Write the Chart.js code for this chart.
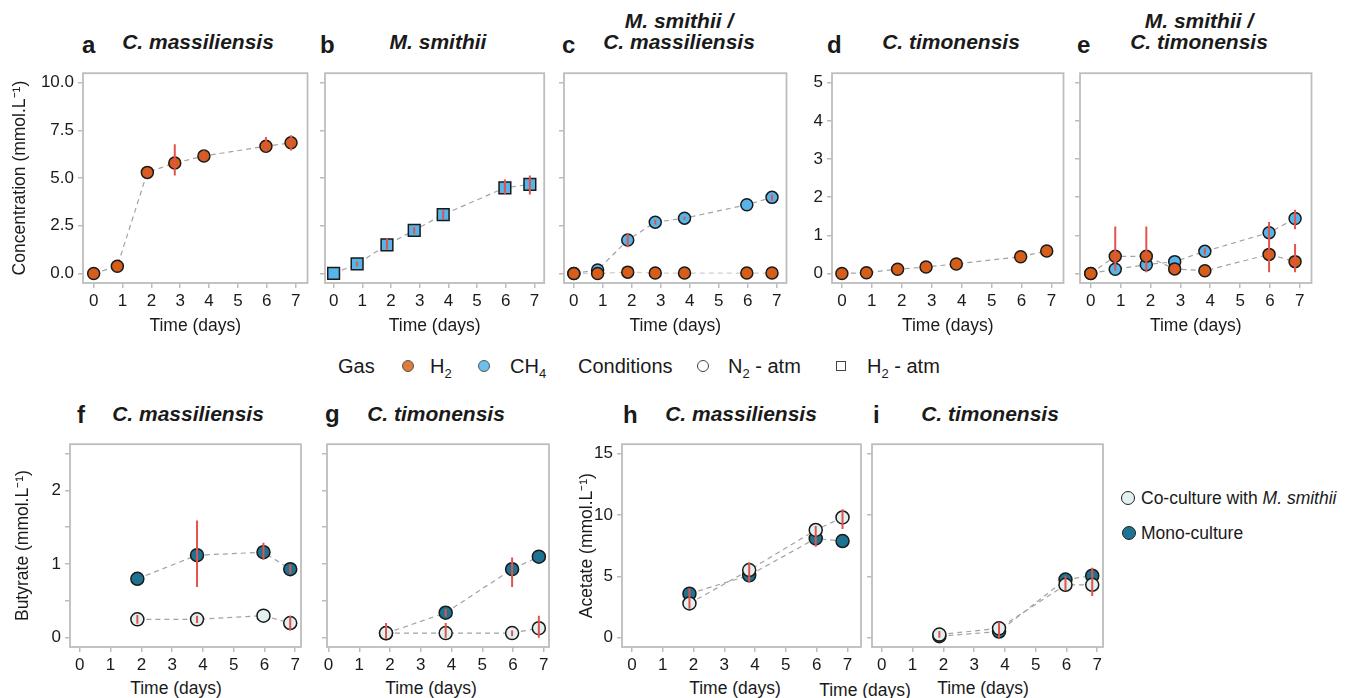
<!DOCTYPE html>
<html><head><meta charset="utf-8">
<script src="https://cdn.jsdelivr.net/npm/chart.js@4.4.0/dist/chart.umd.min.js"></script>
<style>
body{margin:0;background:#fff;width:1356px;height:698px;position:relative;overflow:hidden;font-family:"Liberation Sans",Arial,Helvetica,sans-serif;color:#1a1a1a}
.lt{position:absolute;font-weight:bold;font-size:24px;line-height:24px}
.tt{position:absolute;font-weight:bold;font-style:italic;font-size:21px;line-height:21px;text-align:center;transform:translateX(-50%);white-space:nowrap}
.xt{position:absolute;font-size:17.5px;line-height:21px;transform:translate(-50%,-50%);white-space:nowrap}
.lg{position:absolute;font-size:20px;line-height:24px;white-space:nowrap}
.rl{position:absolute;font-size:17.5px;line-height:22px;white-space:nowrap}
.dot{position:absolute;border-radius:50%;box-sizing:border-box}
</style></head><body>

<div class="lt" style="left:82px;top:33px">a</div>
<div class="lt" style="left:320px;top:33px">b</div>
<div class="lt" style="left:562px;top:33px">c</div>
<div class="lt" style="left:827px;top:33px">d</div>
<div class="lt" style="left:1077px;top:33px">e</div>
<div class="lt" style="left:77px;top:403px">f</div>
<div class="lt" style="left:325px;top:402px">g</div>
<div class="lt" style="left:623px;top:403px">h</div>
<div class="lt" style="left:873px;top:403px">i</div>

<div class="tt" style="left:198px;top:31px">C. massiliensis</div>
<div class="tt" style="left:438px;top:31px">M. smithii</div>
<div class="tt" style="left:679px;top:10px">M. smithii /<br>C. massiliensis</div>
<div class="tt" style="left:951px;top:31px">C. timonensis</div>
<div class="tt" style="left:1199px;top:10px">M. smithii /<br>C. timonensis</div>
<div class="tt" style="left:188px;top:403px">C. massiliensis</div>
<div class="tt" style="left:436px;top:403px">C. timonensis</div>
<div class="tt" style="left:741px;top:403px">C. massiliensis</div>
<div class="tt" style="left:990px;top:403px">C. timonensis</div>

<div class="xt" style="left:176px;top:688px">Time (days)</div>
<div class="xt" style="left:431px;top:688px">Time (days)</div>
<div class="xt" style="left:735px;top:688px">Time (days)</div>
<div class="xt" style="left:865px;top:690px">Time (days)</div>
<div class="xt" style="left:983px;top:688px">Time (days)</div>

<div class="lg" style="left:338px;top:354px">Gas</div>
<div class="dot" style="left:402px;top:360px;width:12px;height:12px;background:#E07B39;border:1px solid #555"></div>
<div class="lg" style="left:430px;top:354px">H<sub style="font-size:13px">2</sub></div>
<div class="dot" style="left:478px;top:360px;width:12px;height:12px;background:#6BC0EC;border:1px solid #555"></div>
<div class="lg" style="left:510px;top:354px">CH<sub style="font-size:13px">4</sub></div>
<div class="lg" style="left:578px;top:354px">Conditions</div>
<div class="dot" style="left:697px;top:360px;width:12px;height:12px;background:#fff;border:1.2px solid #444"></div>
<div class="lg" style="left:728px;top:354px">N<sub style="font-size:13px">2</sub> - atm</div>
<div style="position:absolute;left:836px;top:361px;width:10px;height:10px;box-sizing:border-box;border:1.2px solid #444"></div>
<div class="lg" style="left:867px;top:354px">H<sub style="font-size:13px">2</sub> - atm</div>

<div class="dot" style="left:1121px;top:491px;width:14px;height:14px;background:#E2F0F0;border:1.5px solid #222"></div>
<div class="rl" style="left:1141px;top:487px">Co-culture with <i>M. smithii</i></div>
<div class="dot" style="left:1122px;top:526px;width:14px;height:14px;background:#1E7393;border:1.5px solid #222"></div>
<div class="rl" style="left:1141px;top:522px">Mono-culture</div>

<script>
// ---------- data ----------
const days = [0, 0.82, 1.86, 2.81, 3.82, 5.97, 6.84];
const daysSCFA = [1.87, 3.81, 5.97, 6.84];
const xTickValues = [0, 1, 2, 3, 4, 5, 6, 7];
const gasTicksTen = [0, 2.5, 5, 7.5, 10];
const gasTickLabelsTen = ['0.0', '2.5', '5.0', '7.5', '10.0'];
const gasTicksFive = [0, 1, 2, 3, 4, 5];
const gasTickLabelsFive = ['0', '1', '2', '3', '4', '5'];
const butyrateTicks = [0, 0.5, 1, 1.5, 2, 2.5];
const butyrateTickLabels = ['0', '', '1', '', '2', ''];
const acetateTicks = [0, 5, 10, 15];
const acetateTickLabels = ['0', '5', '10', '15'];

// a: C. massiliensis, H2
const massH2 = [0, 0.38, 5.30, 5.79, 6.16, 6.67, 6.85];
const massH2Lo = [null, null, 5.05, 5.13, 5.90, 6.40, 6.45];
const massH2Hi = [null, null, 5.45, 6.78, 6.45, 7.15, 7.25];
// b: M. smithii, CH4
const smithiiCH4 = [0, 0.50, 1.50, 2.26, 3.09, 4.49, 4.67];
const smithiiCH4Lo = [null, 0.38, 1.25, 2.08, 2.85, 4.14, 4.14];
const smithiiCH4Hi = [null, 0.62, 1.83, 2.44, 3.32, 4.93, 5.13];
// c: M. smithii / C. massiliensis
const coMassCH4 = [0, 0.18, 1.75, 2.69, 2.90, 3.60, 3.99];
const coMassCH4Lo = [null, null, 1.37, 2.57, 2.82, null, 3.81];
const coMassCH4Hi = [null, null, 2.11, 2.82, 2.98, null, 4.14];
const coMassH2 = [0, 0, 0.07, 0.02, 0.02, 0.02, 0.02];
// d: C. timonensis, H2
const timH2 = [0, 0.02, 0.11, 0.17, 0.25, 0.44, 0.59];
// e: M. smithii / C. timonensis
const coTimH2 = [0, 0.45, 0.45, 0.12, 0.07, 0.50, 0.31];
const coTimH2Lo = [null, 0.07, 0.03, 0.05, null, 0.03, 0.03];
const coTimH2Hi = [null, 1.23, 1.23, 0.20, null, 1.35, 0.77];
const coTimCH4 = [0, 0.11, 0.23, 0.31, 0.58, 1.07, 1.44];
const coTimCH4Lo = [null, null, null, null, 0.50, null, 1.16];
const coTimCH4Hi = [null, null, null, null, 0.66, null, 1.67];
// f: butyrate, C. massiliensis
const butMassMono = [0.80, 1.12, 1.16, 0.93];
const butMassMonoLo = [null, 0.69, 1.06, 0.87];
const butMassMonoHi = [null, 1.59, 1.29, 0.99];
const butMassCo = [0.25, 0.25, 0.30, 0.20];
const butMassCoLo = [0.19, 0.20, null, 0.10];
const butMassCoHi = [0.31, 0.30, null, 0.30];
// g: butyrate, C. timonensis
const butTimMono = [0.06, 0.34, 0.93, 1.10];
const butTimMonoLo = [null, 0.29, 0.69, null];
const butTimMonoHi = [null, 0.39, 1.09, null];
const butTimCo = [0.064, 0.064, 0.064, 0.13];
const butTimCoLo = [-0.01, 0.0, 0.02, 0.0];
const butTimCoHi = [0.20, 0.20, 0.10, 0.30];
// h: acetate, C. massiliensis
const aceMassMono = [3.59, 5.08, 8.08, 7.87];
const aceMassCo = [2.79, 5.51, 8.77, 9.79];
const aceMassCoLo = [2.36, 4.50, 7.40, 8.85];
const aceMassCoHi = [4.03, 6.15, 9.10, 10.45];
// i: acetate, C. timonensis
const aceTimMono = [0.13, 0.51, 4.74, 5.05];
const aceTimCo = [0.26, 0.77, 4.31, 4.31];
const aceTimCoLo = [0.0, 0.0, 3.85, 3.40];
const aceTimCoHi = [0.55, 1.28, 5.00, 5.70];

// ---------- styles ----------
const ink = '#1a1a1a';
const frameColor = '#BDBDBD';
const lineGrey = '#A3A3A3';
const errColor = '#E2534E';
const cH2 = '#D55E1A';
const cCH4 = '#56B4E9';
const cMono = '#1E7393';
const cCo = '#E2F0F0';
const FAM = '"Liberation Sans", Arial, Helvetica, sans-serif';
const tickFont = {family: FAM, size: 17};
const titleFont = {family: FAM, size: 17.5};

const framePlugin = {
  id: 'frame',
  afterDatasetsDraw(chart) {
    const {ctx, chartArea: a} = chart;
    ctx.save();
    ctx.strokeStyle = frameColor; ctx.lineWidth = 1.8;
    ctx.strokeRect(a.left, a.top, a.right - a.left, a.bottom - a.top);
    ctx.restore();
  }
};
const errorBarPlugin = {
  id: 'errbars',
  afterDatasetsDraw(chart) {
    const {ctx, chartArea: a, scales: {x, y}} = chart;
    ctx.save();
    ctx.beginPath(); ctx.rect(a.left, a.top, a.right - a.left, a.bottom - a.top); ctx.clip();
    ctx.strokeStyle = errColor; ctx.lineWidth = 2;
    chart.data.datasets.forEach(ds => {
      if (!ds.errLo) return;
      ds.data.forEach((pt, i) => {
        const lo = ds.errLo[i], hi = ds.errHi[i];
        if (lo == null || hi == null) return;
        const px = x.getPixelForValue(pt.x);
        ctx.beginPath();
        ctx.moveTo(px, y.getPixelForValue(lo));
        ctx.lineTo(px, y.getPixelForValue(hi));
        ctx.stroke();
      });
    });
    ctx.restore();
  }
};

function series(xs, ys, color, o = {}) {
  return {
    data: xs.map((x, i) => ({x, y: ys[i]})),
    showLine: true, borderColor: o.lineColor || lineGrey, borderWidth: 1.2, borderDash: [5, 4],
    pointBackgroundColor: color, pointBorderColor: ink, pointBorderWidth: 1.5,
    pointRadius: o.radius || 6, pointStyle: o.style || 'circle',
    errLo: o.lo, errHi: o.hi
  };
}

function makePanel(p) {
  const [l, t, r, b] = p.box;
  const YW = p.yw, XH = p.xh, PT = 2, PR = 2;
  const W = YW + (r - l) + PR, H = PT + (b - t) + XH;
  const cv = document.createElement('canvas');
  cv.width = W; cv.height = H;
  cv.style.cssText = `position:absolute;left:${l - YW}px;top:${t - PT}px;width:${W}px;height:${H}px`;
  document.body.appendChild(cv);
  new Chart(cv, {
    type: 'scatter',
    data: {datasets: p.datasets},
    options: {
      responsive: false, animation: false, devicePixelRatio: 1, events: [],
      layout: {padding: {top: PT, right: PR, left: 0, bottom: 0}},
      plugins: {legend: {display: false}, tooltip: {enabled: false}},
      scales: {
        x: {
          type: 'linear', min: p.xMin, max: p.xMax,
          afterFit: s => { s.height = XH; },
          afterBuildTicks: s => { s.ticks = xTickValues.map(v => ({value: v})); },
          ticks: {callback: v => String(v), font: tickFont, color: ink, padding: 3, maxRotation: 0, autoSkip: false},
          grid: {drawOnChartArea: false, drawTicks: true, tickLength: 5, color: frameColor, lineWidth: 1.5},
          border: {display: false},
          title: p.xTitle ? {display: true, text: 'Time (days)', font: titleFont, color: ink, padding: {top: 0, bottom: 0}} : {display: false}
        },
        y: {
          type: 'linear', min: p.yMin, max: p.yMax,
          afterFit: s => { s.width = YW; },
          afterBuildTicks: s => { s.ticks = p.yTicks.map(v => ({value: v})); },
          ticks: {callback: (v, i) => p.showY ? p.yLabels[i] : '', font: tickFont, color: ink, padding: 4, autoSkip: false},
          grid: {drawOnChartArea: false, drawTicks: true, tickLength: 5, color: frameColor, lineWidth: 1.5},
          border: {display: false},
          title: p.yTitle ? {display: true, text: p.yTitle, font: titleFont, color: ink, padding: {top: p.yTitlePad, bottom: 0}} : {display: false}
        }
      }
    },
    plugins: [framePlugin, errorBarPlugin]
  });
}

const rowTop = {t: 61, b: 283, xh: 54};
const rowBot = {t: 432, b: 647, xh: 30};

makePanel({box: [83, rowTop.t, 313, rowTop.b], yw: 83, xh: rowTop.xh, xMin: -0.37, xMax: 7.41, yMin: -0.5, yMax: 10.5,
  yTicks: gasTicksTen, yLabels: gasTickLabelsTen, showY: true, yTitle: 'Concentration (mmol.L⁻¹)', yTitlePad: 9.5, xTitle: true,
  datasets: [series(days, massH2, cH2, {lo: massH2Lo, hi: massH2Hi})]});
makePanel({box: [325, rowTop.t, 552, rowTop.b], yw: 10, xh: rowTop.xh, xMin: -0.30, xMax: 7.34, yMin: -0.5, yMax: 10.5,
  yTicks: gasTicksTen, yLabels: gasTickLabelsTen, showY: false, xTitle: true,
  datasets: [series(days, smithiiCH4, cCH4, {style: 'rect', radius: 8.3, lo: smithiiCH4Lo, hi: smithiiCH4Hi})]});
makePanel({box: [564, rowTop.t, 792, rowTop.b], yw: 10, xh: rowTop.xh, xMin: -0.34, xMax: 7.34, yMin: -0.5, yMax: 10.5,
  yTicks: gasTicksTen, yLabels: gasTickLabelsTen, showY: false, xTitle: true,
  datasets: [series(days, coMassH2, cH2, {lineColor: '#CFCFCF'}),
             series(days, coMassCH4, cCH4, {lo: coMassCH4Lo, hi: coMassCH4Hi})]});
makePanel({box: [832, rowTop.t, 1069, rowTop.b], yw: 30, xh: rowTop.xh, xMin: -0.33, xMax: 7.40, yMin: -0.25, yMax: 5.25,
  yTicks: gasTicksFive, yLabels: gasTickLabelsFive, showY: true, xTitle: true,
  datasets: [series(days, timH2, cH2)]});
makePanel({box: [1080, rowTop.t, 1317, rowTop.b], yw: 10, xh: rowTop.xh, xMin: -0.36, xMax: 7.39, yMin: -0.25, yMax: 5.25,
  yTicks: gasTicksFive, yLabels: gasTickLabelsFive, showY: false, xTitle: true,
  datasets: [series(days, coTimH2, cH2, {lo: coTimH2Lo, hi: coTimH2Hi}),
             series(days, coTimCH4, cCH4, {lo: coTimCH4Lo, hi: coTimCH4Hi})]});

makePanel({box: [70, rowBot.t, 307, rowBot.b], yw: 70, xh: rowBot.xh, xMin: -0.32, xMax: 7.19, yMin: -0.125, yMax: 2.625,
  yTicks: butyrateTicks, yLabels: butyrateTickLabels, showY: true, yTitle: 'Butyrate (mmol.L⁻¹)', yTitlePad: 12.5, xTitle: false,
  datasets: [series(daysSCFA, butMassCo, cCo, {radius: 6.5, lo: butMassCoLo, hi: butMassCoHi}),
             series(daysSCFA, butMassMono, cMono, {radius: 6.5, lo: butMassMonoLo, hi: butMassMonoHi})]});
makePanel({box: [327, rowBot.t, 555, rowBot.b], yw: 10, xh: rowBot.xh, xMin: -0.05, xMax: 7.17, yMin: -0.125, yMax: 2.625,
  yTicks: butyrateTicks, yLabels: butyrateTickLabels, showY: false, xTitle: false,
  datasets: [series(daysSCFA, butTimCo, cCo, {radius: 6.5, lo: butTimCoLo, hi: butTimCoHi}),
             series(daysSCFA, butTimMono, cMono, {radius: 6.5, lo: butTimMonoLo, hi: butTimMonoHi})]});
makePanel({box: [622, rowBot.t, 867, rowBot.b], yw: 62, xh: rowBot.xh, xMin: -0.32, xMax: 7.44, yMin: -0.75, yMax: 15.75,
  yTicks: acetateTicks, yLabels: acetateTickLabels, showY: true, yTitle: 'Acetate (mmol.L⁻¹)', yTitlePad: 16.5, xTitle: false,
  datasets: [series(daysSCFA, aceMassCo, cCo, {radius: 6.5, lo: aceMassCoLo, hi: aceMassCoHi}),
             series(daysSCFA, aceMassMono, cMono, {radius: 6.5})]});
makePanel({box: [872, rowBot.t, 1109, rowBot.b], yw: 10, xh: rowBot.xh, xMin: -0.32, xMax: 7.19, yMin: -0.75, yMax: 15.75,
  yTicks: acetateTicks, yLabels: acetateTickLabels, showY: false, xTitle: false,
  datasets: [series(daysSCFA, aceTimCo, cCo, {radius: 6.5, lo: aceTimCoLo, hi: aceTimCoHi}),
             series(daysSCFA, aceTimMono, cMono, {radius: 6.5})]});
</script>
</body></html>
